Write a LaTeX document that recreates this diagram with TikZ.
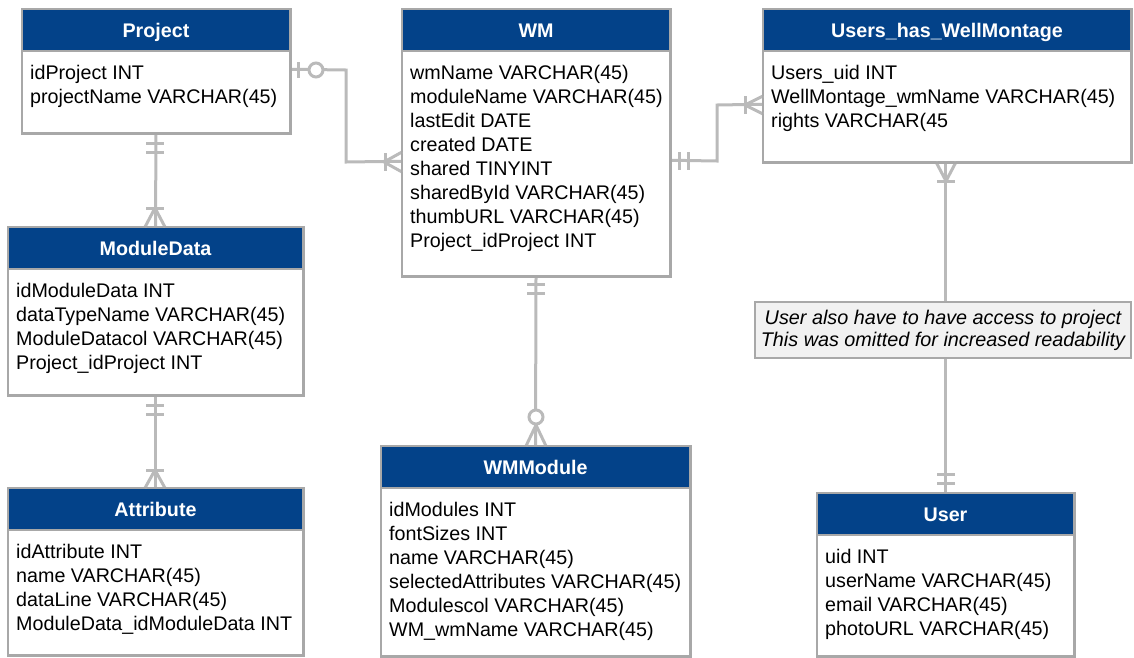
\documentclass[tikz,border=0pt]{standalone}
\usepackage{fontspec}
\setmainfont{Liberation Sans}
\usetikzlibrary{calc}
\definecolor{hdblue}{RGB}{3,66,137}
\definecolor{boxgray}{RGB}{168,168,168}
\definecolor{conngray}{RGB}{186,186,186}
\definecolor{notefill}{RGB}{241,241,241}
\tikzset{
  tblbody/.style={draw=boxgray, line width=1.5pt, fill=white, inner sep=0pt},
  tblhead/.style={fill=hdblue, draw=boxgray, line width=1.5pt, minimum height=42pt, inner sep=0pt,
    text=white, text height=14pt, text depth=0pt, font=\fontsize{19.7}{24}\selectfont\bfseries},
  rowtext/.style={anchor=base west, inner sep=0pt, font=\fontsize{19.7}{24}\selectfont},
  conn/.style={draw=conngray, line width=3pt},
  erkmark/.style={draw=conngray, line width=3pt},
  notebox/.style={draw=boxgray, line width=1.5pt, fill=notefill, inner sep=0pt, align=center,
    font=\fontsize{19.8}{22}\selectfont\itshape}
}
\newcommand\ertable[7]{%
  \node[tblbody, minimum width={#3-#2}, minimum height={#5-#4}] (#1) at ({(#2+#3)/2},{(#4+#5)/2}) {};
  \node[tblhead, minimum width={#3-#2}] (#1-h) at ({(#2+#3)/2},{#4+21}) {#6};
  \foreach \r [count=\i] in {#7} {\node[rowtext] (#1-r\i) at ({#2+8},{#4+70+24*(\i-1)}) {\r};}
}
\begin{document}
\begin{tikzpicture}[x=1pt,y=-1pt]
\useasboundingbox (0,0) rectangle (1134,657);

\ertable{proj}{22}{290}{9}{133}{Project}{{idProject INT},{projectName VARCHAR(45)}}
\ertable{wm}{402}{670}{9}{276}{WM}{{wmName VARCHAR(45)},{moduleName VARCHAR(45)},{lastEdit DATE},{created DATE},{shared TINYINT},{sharedById VARCHAR(45)},{thumbURL VARCHAR(45)},{Project\_idProject INT}}
\ertable{uhw}{763}{1131}{9}{162}{Users\_has\_WellMontage}{{Users\_uid INT},{WellMontage\_wmName VARCHAR(45)},{rights VARCHAR(45}}
\ertable{md}{8}{303}{227}{395}{ModuleData}{{idModuleData INT},{dataTypeName VARCHAR(45)},{ModuleDatacol VARCHAR(45)},{Project\_idProject INT}}
\ertable{attr}{8}{303}{488}{655}{Attribute}{{idAttribute INT},{name VARCHAR(45)},{dataLine VARCHAR(45)},{ModuleData\_idModuleData INT}}
\ertable{wmm}{381}{690}{446}{656}{WMModule}{{idModules INT},{fontSizes INT},{name VARCHAR(45)},{selectedAttributes VARCHAR(45)},{Modulescol VARCHAR(45)},{WM\_wmName VARCHAR(45)}}
\ertable{user}{817}{1074}{493}{656}{User}{{uid INT},{userName VARCHAR(45)},{email VARCHAR(45)},{photoURL VARCHAR(45)}}

% connector end points
\coordinate (a1) at ($(proj.north east)+(0,61)$);
\coordinate (a2) at ($(wm.north west)+(0,153)$);
\coordinate (b1) at ($(wm.north east)+(0,152)$);
\coordinate (b2) at ($(uhw.north west)+(0,96)$);
\coordinate (e1) at ($(uhw.south west)+(183,0)$);
\coordinate (e2) at ($(user-h.north west)+(129,0)$);

% Project -> WM (zero-or-one to many)
\draw[conn] (a1) -- (346,70) -- (346,162) -- (a2);
\draw[erkmark] (298,62) -- (298,78);
\draw[erkmark, fill=white] (316,70) circle (7);
\draw[erkmark] (385,153) -- (385,171);
\draw[erkmark] (384,162) -- (402,152) (384,162) -- (402,172);

% WM -> Users_has_WellMontage
\draw[conn] (b1) -- (717,161) -- (717,105) -- (b2);
\draw[erkmark] (679,152) -- (679,170) (688,152) -- (688,170);
\draw[erkmark] (745,96) -- (745,114);
\draw[erkmark] (745,105) -- (763,96) (745,105) -- (763,114);

% Project -> ModuleData
\draw[conn] (proj.south) -- (md-h.north);
\draw[erkmark] (146,143) -- (164,143) (146,152) -- (164,152);
\draw[erkmark] (146,208) -- (164,208);
\draw[erkmark] (155,208) -- (145,227) (155,208) -- (165,227);

% ModuleData -> Attribute
\draw[conn] (md.south) -- (attr-h.north);
\draw[erkmark] (146,405) -- (164,405) (146,414) -- (164,414);
\draw[erkmark] (146,470) -- (164,470);
\draw[erkmark] (155,470) -- (145,488) (155,470) -- (165,488);

% WM -> WMModule
\draw[conn] (wm.south) -- (wmm-h.north);
\draw[erkmark] (527,284) -- (545,284) (527,293) -- (545,293);
\draw[erkmark, fill=white] (536,417) circle (7);
\draw[erkmark] (536,425) -- (526,446) (536,425) -- (546,446);

% Users_has_WellMontage -> User
\draw[conn] (e1) -- (e2);
\draw[erkmark] (937,181) -- (955,181);
\draw[erkmark] (946,181) -- (936,162) (946,181) -- (956,162);
\draw[erkmark] (937,474) -- (955,474) (937,483) -- (955,483);

% redraw box outlines over connector ends
\foreach \t in {proj,wm,uhw,md,attr,wmm,user} {\draw[draw=boxgray, line width=1.5pt] (\t.north west) rectangle (\t.south east);}

% note
\node[notebox, minimum width=376pt, minimum height=56pt] (note) at (943,330)
  {User also have to have access to project\\This was omitted for increased readability};
\end{tikzpicture}
\end{document}
